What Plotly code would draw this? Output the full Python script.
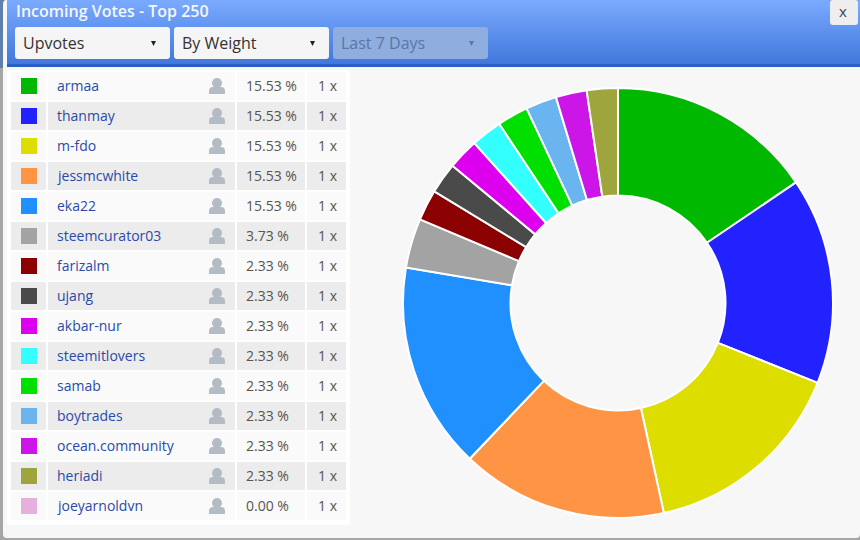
import plotly.graph_objects as go

# Vote table contents
voters = ["armaa", "thanmay", "m-fdo", "jessmcwhite", "eka22", "steemcurator03", "farizalm", "ujang",
          "akbar-nur", "steemitlovers", "samab", "boytrades", "ocean.community", "heriadi", "joeyarnoldvn"]
weights = [15.53, 15.53, 15.53, 15.53, 15.53, 3.73, 2.33, 2.33, 2.33, 2.33, 2.33, 2.33, 2.33, 2.33, 0.00]
counts = [1] * 15
colors = ["#00b800", "#2222ff", "#dddd00", "#ff9444", "#2090ff", "#a3a3a3", "#8b0000", "#4a4a4a",
          "#dd00ee", "#33ffff", "#00e000", "#6ab4f0", "#cc16e8", "#9ea53c", "#e6b0dc"]
dropdowns = ["Upvotes", "By Weight", "Last 7 Days"]
title = "Incoming Votes - Top 250"

FONT = "Open Sans"
shapes = []
notes = []


def rect(x0, y0, x1, y1, fill, radius=0):
    if radius:
        r = radius
        path = (f"M{x0+r},{y0} L{x1-r},{y0} Q{x1},{y0} {x1},{y0+r} L{x1},{y1-r} Q{x1},{y1} {x1-r},{y1} "
                f"L{x0+r},{y1} Q{x0},{y1} {x0},{y1-r} L{x0},{y0+r} Q{x0},{y0} {x0+r},{y0} Z")
        shapes.append(dict(type="path", path=path, fillcolor=fill, line_width=0, layer="below"))
    else:
        shapes.append(dict(type="rect", x0=x0, y0=y0, x1=x1, y1=y1, fillcolor=fill, line_width=0, layer="below"))


def text(x, y, s, size, color, anchor="left", weight="normal"):
    # Annotations carry about 2px of internal padding on the left
    notes.append(dict(x=x - 2 if anchor == "left" else x, y=y - 1, text=s, showarrow=False, xanchor=anchor,
                      yanchor="middle", font=dict(family=FONT, size=size, color=color, weight=weight)))


# Window behind the dialog, then the dialog body
rect(0, 0, 860, 540, "#a6a6a6")
rect(0, 0, 4, 68, "#5f80ac")
rect(3, 0, 860, 538, "#f7f7f7", 4)

# Header gradient, one band per pixel row
top, bottom = (122, 170, 255), (66, 120, 220)
for i in range(64):
    t = i / 63
    c = tuple(round(a + (b - a) * t) for a, b in zip(top, bottom))
    rect(7, i, 860, i + 1, f"rgb{c}")
rect(7, 64, 860, 67, "#2a5fc8")

text(16, 12, title, 16, "#f4f7ff", weight=600)

# Dropdown controls
boxes = [(15, 170, "#f5f5f5", "#333333", "#222222"), (174, 329, "#f5f5f5", "#333333", "#222222"),
         (333, 488, "#8fadde", "#5c76a6", "#5c76a6")]
for (x0, x1, fill, ink, arrow), label in zip(boxes, dropdowns):
    rect(x0, 27, x1, 59, fill, 3)
    text(x0 + 8, 44, label, 16, ink)
    ax = x0 + 139
    shapes.append(dict(type="path", path=f"M{ax-3},41 L{ax+2},41 L{ax-0.5},46 Z", fillcolor=arrow, line_width=0))

# Close button
rect(830, 0, 858, 25, "#eeeeee", 3)
text(843, 12, "x", 15, "#444444", "center")

# Table card and rows
rect(7, 70, 350, 525, "#ffffff", 3)
for i, (name, w, n, col) in enumerate(zip(voters, weights, counts, colors)):
    y = 86 + i * 30
    bg = "#fafafa" if i % 2 == 0 else "#ececec"
    y0, y1 = y - 14, y + 14
    for x0, x1 in [(11, 46), (48, 235), (237, 305), (307, 346)]:
        rect(x0, y0, x1, y1, bg)
    rect(21, y - 8, 37, y + 8, col)
    text(57, y, name, 14, "#2a4aa8")
    # Person icon
    shapes.append(dict(type="circle", x0=212, y0=y - 8, x1=222, y1=y + 2, fillcolor="#b3bcc4", line_width=0))
    shapes.append(dict(type="path", path=f"M209,{y+8} L209,{y+5} Q209,{y+1} 213,{y+1} L221,{y+1} Q225,{y+1} 225,{y+5} L225,{y+8} Z",
                       fillcolor="#b3bcc4", line_width=0))
    text(246, y, f"{w:.2f} %", 14, "#555555")
    text(327.5, y, f"{n} x", 14, "#555555", "center")

fig = go.Figure(go.Pie(
    labels=voters, values=weights, hole=0.5, sort=False, direction="clockwise", rotation=0,
    textinfo="none", marker=dict(colors=colors, line=dict(color="#ffffff", width=2)),
    domain=dict(x=[403 / 860, 833 / 860], y=[1 - 518 / 540, 1 - 88 / 540]), showlegend=False,
))
fig.update_layout(
    width=860, height=540, margin=dict(l=0, r=0, t=0, b=0), paper_bgcolor="#f7f7f7", plot_bgcolor="#f7f7f7",
    xaxis=dict(range=[0, 860], visible=False, fixedrange=True, domain=[0, 1]),
    yaxis=dict(range=[540, 0], visible=False, fixedrange=True, domain=[0, 1]),
    shapes=shapes, annotations=notes,
)
# Invisible cartesian trace keeps the pixel axes active for the shapes
fig.add_trace(go.Scatter(x=[], y=[], showlegend=False))
fig.write_html("out.html", config=dict(displayModeBar=False))
